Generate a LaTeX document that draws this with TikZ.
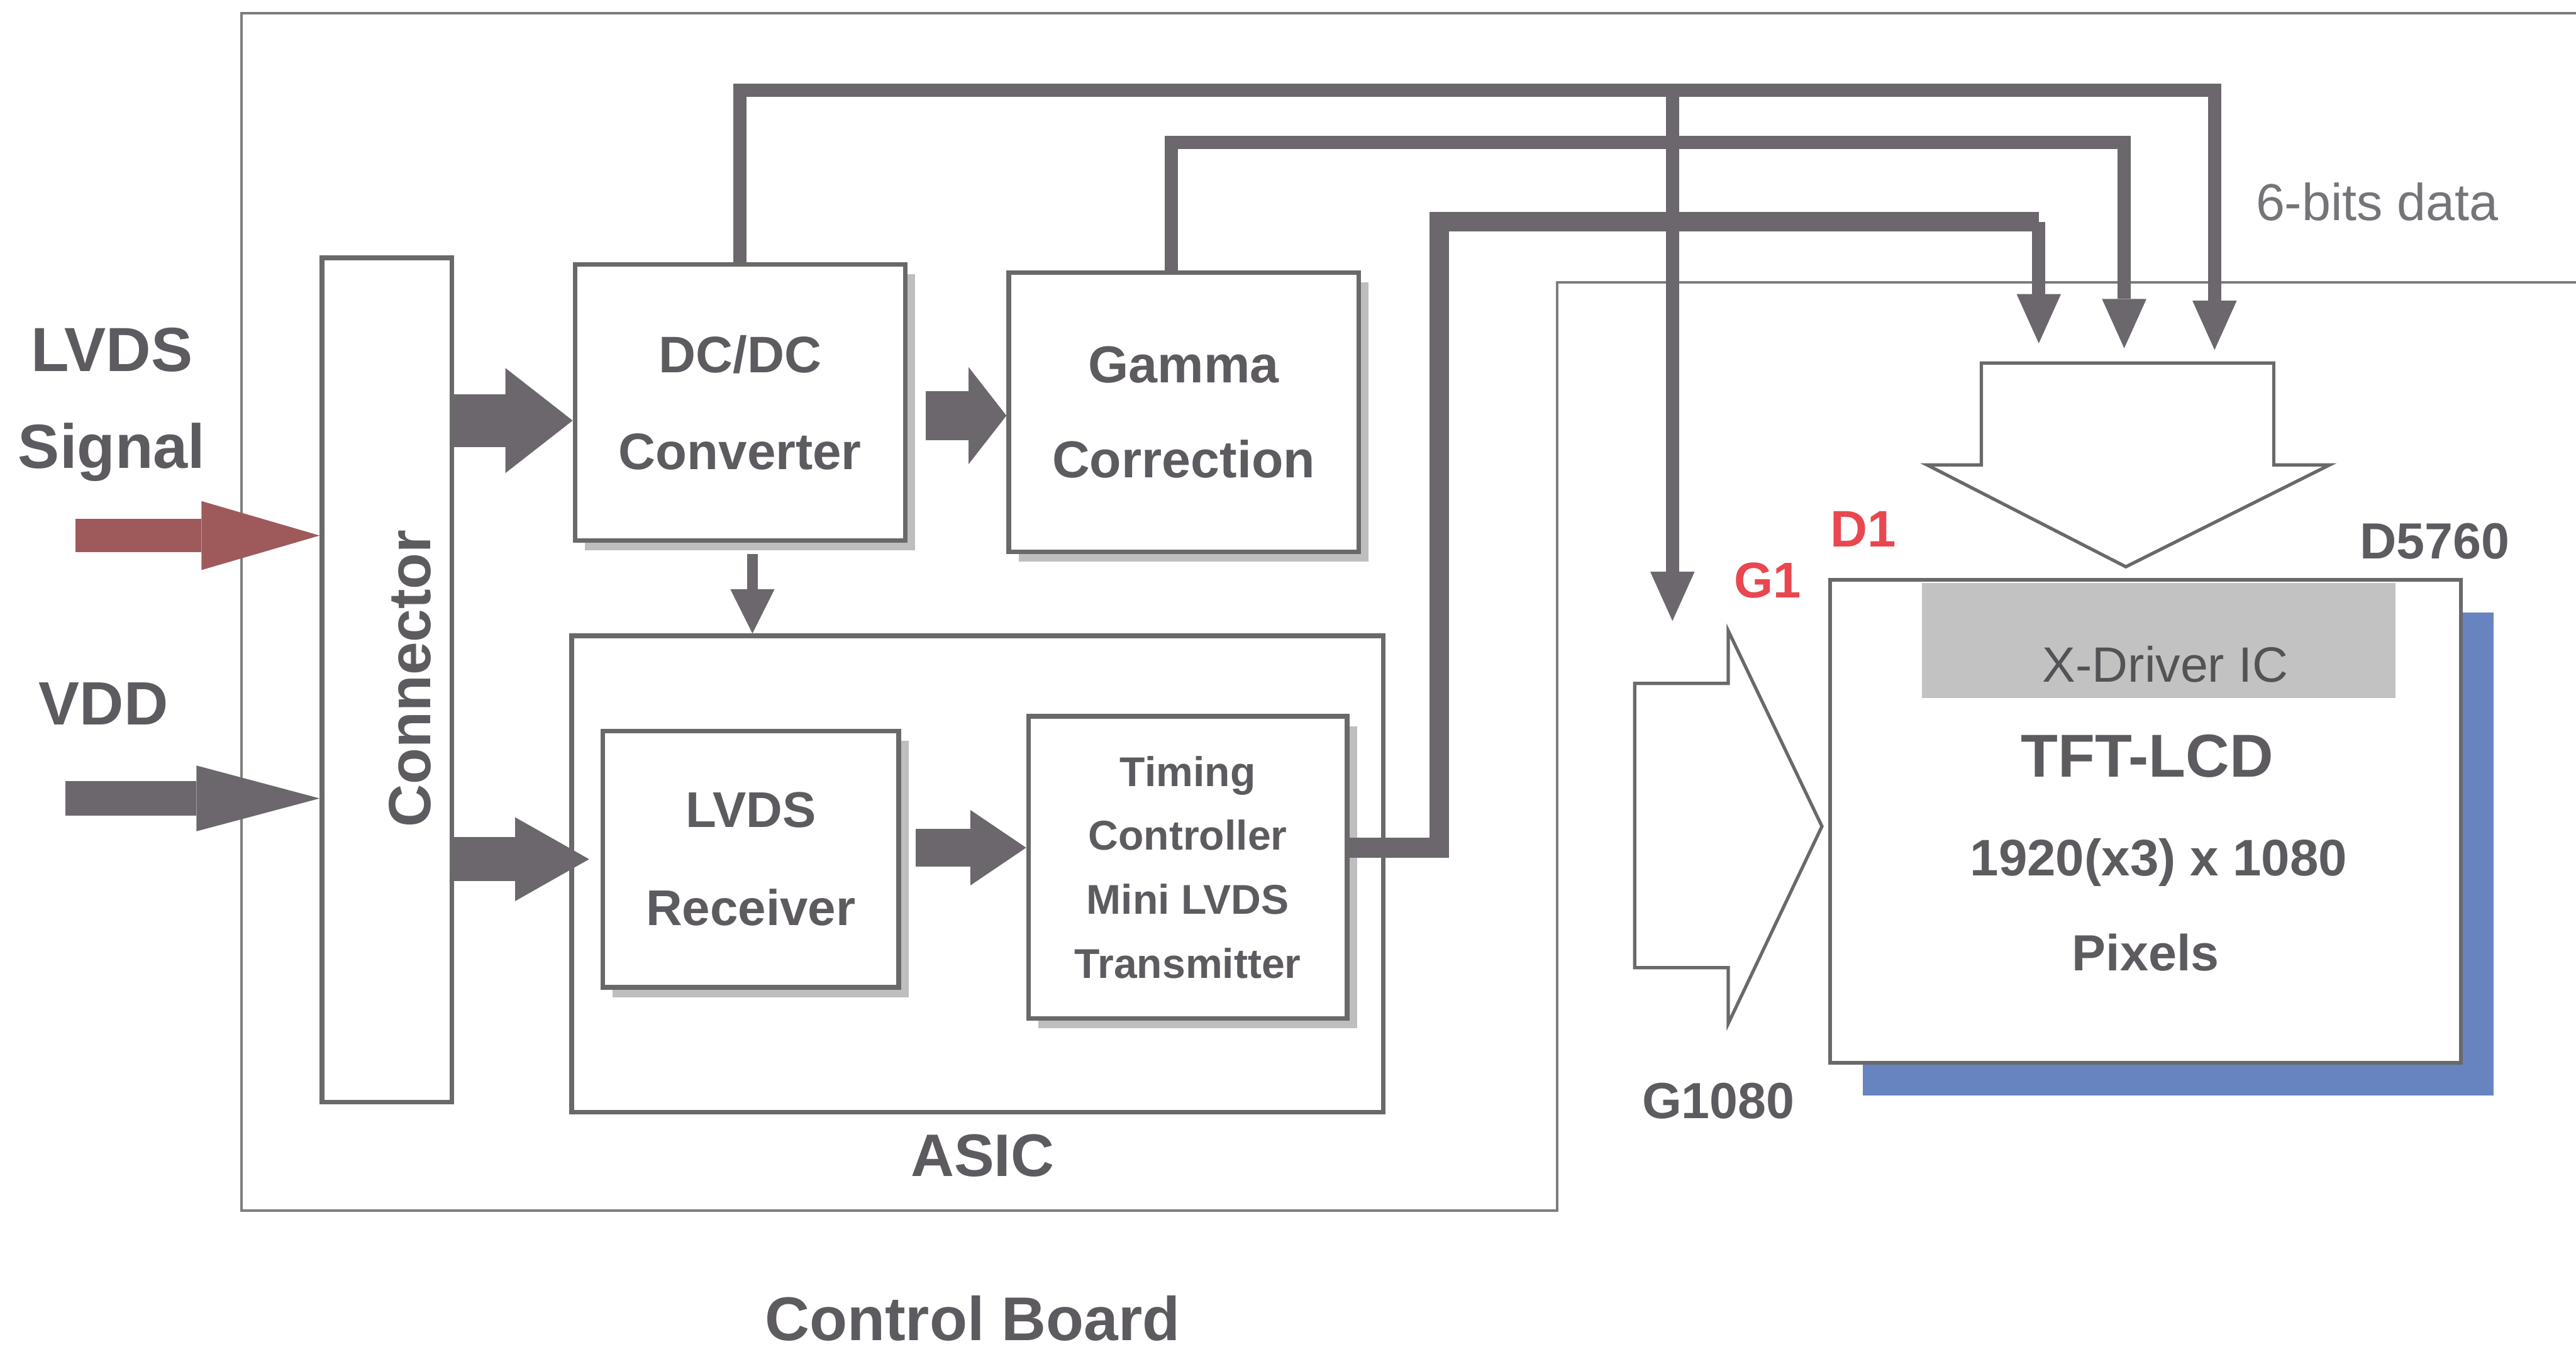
\documentclass[tikz,border=0pt]{standalone}
\usepackage{fontspec}
\setmainfont{Liberation Sans}
\usetikzlibrary{arrows.meta, shadows, positioning}

\definecolor{txtgray}{RGB}{94,91,96}
\definecolor{arrgray}{RGB}{107,103,109}
\definecolor{boxgray}{RGB}{105,105,105}
\definecolor{framegray}{RGB}{125,125,125}
\definecolor{shdgray}{RGB}{190,190,190}
\definecolor{sigred}{RGB}{158,90,90}
\definecolor{lcdblue}{RGB}{103,132,192}
\definecolor{drvgray}{RGB}{194,194,194}
\definecolor{pinred}{RGB}{233,71,79}

\tikzset{
  blk/.style={draw=boxgray, line width=0.28mm, fill=white, inner sep=0pt, text=txtgray, align=center},
  shd/.style={general shadow={fill=shdgray, shadow xshift=0.6mm, shadow yshift=-0.6mm}},
  lbl/.style={text=txtgray, inner sep=0pt, anchor=base},
  fnt/.style={font=\bfseries\fontsize{#1}{#1}\selectfont},
  fat/.style args={#1/#2/#3}{draw=arrgray, line width=#1, -{Triangle[width=#2, length=#3, line width=0pt]}},
  bus/.style={draw=arrgray, line width=0.8mm},
  bustip/.style={-{Triangle[width=2.7mm, length=3mm, line width=0pt]}},
  hollow/.style={draw=boxgray, line width=0.2mm, fill=white, line join=miter},
}

\begin{document}
\begin{tikzpicture}[x=0.1mm, y=-0.1mm]
  \useasboundingbox (0,0) rectangle (1568,827);
  \fill[white] (0,0) rectangle (1568,827);

  % control board frame and panel edge
  \draw[framegray, line width=0.15mm] (1568,8) -- (147,8) -- (147,737) -- (948,737) -- (948,172) -- (1568,172);

  % blocks on the control board
  \node[blk, minimum width=7.9mm, minimum height=51.4mm] (conn) at (235.5,414) {};
  \node[lbl, fnt=10.3, rotate=90] at (262,413) {Connector};

  \node[blk, shd, minimum width=20.1mm, minimum height=16.8mm, font=\bfseries\fontsize{8.9}{16.8}\selectfont] (dcdc) at (450.5,245) {DC/DC\\Converter};
  \node[blk, shd, minimum width=21.3mm, minimum height=17mm, font=\bfseries\fontsize{9}{16.5}\selectfont] (gamma) at (720.5,251) {Gamma\\Correction};

  \node[blk, minimum width=49.4mm, minimum height=29mm] (asic) at (595,532) {};
  \node[blk, shd, minimum width=18mm, minimum height=15.6mm, font=\bfseries\fontsize{8.7}{17}\selectfont] (rx) at (457,523) {LVDS\\Receiver};
  \node[blk, shd, minimum width=19.4mm, minimum height=18.4mm, font=\bfseries\fontsize{7.2}{11.1}\selectfont] (tcon) at (723,528) {Timing\\Controller\\Mini LVDS\\Transmitter};

  \node[lbl, fnt=10.4] (asiclbl) at (598,716) {ASIC};
  \node[lbl, fnt=10.7] (cblbl) at (592,816) {Control Board};

  % inputs
  \node[lbl, fnt=10.8] (lvdslbl) at (68,226) {LVDS};
  \node[lbl, fnt=10.8] (siglbl) at (68,285) {Signal};
  \node[lbl, fnt=10.6] (vddlbl) at (63,441) {VDD};

  \coordinate (lvdsin) at (46,326);
  \coordinate (vddin) at (40,486);
  \draw[fat=2mm/4.2mm/7.2mm, draw=sigred] (lvdsin) -- (lvdsin -| conn.west);
  \draw[fat=2.1mm/4mm/7.5mm] (vddin) -- (vddin -| conn.west);

  % fat arrows between blocks
  \coordinate (dcin) at ([yshift=-1.1mm]dcdc.west);
  \coordinate (rxin) at ([xshift=-0.7mm]rx.west);
  \coordinate (dcout) at ([xshift=1.1mm,yshift=-0.8mm]dcdc.east);
  \coordinate (rxout) at ([xshift=0.9mm,yshift=0.7mm]rx.east);
  \draw[fat=3.2mm/6.4mm/4.1mm] (conn.east |- dcin) -- (dcin);
  \draw[fat=2.7mm/5.1mm/4.5mm] (conn.east |- rxin) -- (rxin);
  \draw[fat=3mm/5.9mm/2.3mm] (dcout) -- (dcout -| gamma.west);
  \draw[fat=2.3mm/4.6mm/3.4mm] (rxout) -- (rxout -| tcon.west);

  \coordinate (dcdown) at ([xshift=0.75mm,yshift=-0.7mm]dcdc.south);
  \draw[draw=arrgray, line width=0.65mm, -{Triangle[width=2.7mm, length=2.7mm, line width=0pt]}] (dcdown) -- (dcdown |- asic.north);

  % panel
  \node[draw=boxgray, line width=0.25mm, fill=white, general shadow={fill=lcdblue, shadow xshift=2mm, shadow yshift=-2mm}, minimum width=38.4mm, minimum height=29.4mm] (tft) at (1306,500) {};
  \node[fill=drvgray, inner sep=0pt, minimum width=28.8mm, minimum height=7mm] (xdrv) at (1314,390) {};
  \node[lbl, text=txtgray!90!black, font=\fontsize{8.6}{8.6}\selectfont] at (1318,415) {X-Driver IC};
  \node[lbl, fnt=10.5] at (1307,473) {TFT-LCD};
  \node[lbl, fnt=8.9] at (1314,533) {1920(x3) x 1080};
  \node[lbl, fnt=8.8] at (1306,591) {Pixels};

  % hollow driver arrows
  \draw[hollow] (1206,221) -- (1384,221) -- (1384,283) -- (1418,283) -- (1294,345) -- (1173,283) -- (1206,283) -- cycle;
  \draw[hollow] (995,416) -- (1052,416) -- (1052,384) -- (1109,503) -- (1052,623) -- (1052,589) -- (995,589) -- cycle;

  \node[lbl, fnt=8.9, text=pinred] at (1134,333) {D1};
  \node[lbl, fnt=8.7, text=pinred] at (1076,364) {G1};
  \node[lbl, fnt=8.8] at (1482,340) {D5760};
  \node[lbl, fnt=8.8] at (1046,681) {G1080};
  \node[lbl, text=txtgray!85!white, font=\fontsize{9}{9}\selectfont] at (1447,134) {6-bits data};

  % data and gate buses
  \coordinate (dtip1) at (1241,209);
  \coordinate (dtip2) at (1293,212);
  \coordinate (dtip3) at (1348,213);
  \coordinate (dbend) at (1241,135);
  \coordinate (gtap) at (1018,55);
  \coordinate (g1tip) at (1018,378);

  \draw[bus, line width=1.2mm] ([yshift=1.2mm]tcon.east) -| (876,135) -- (dbend);
  \draw[bus, bustip] (dbend) -- (dtip1);
  \draw[bus, bustip] ([xshift=-0.75mm]gamma.north) -- ++(0,7.8mm) -| (dtip2);
  \draw[bus, bustip] (dcdc.north) |- (gtap) -| (dtip3);
  \draw[bus, bustip] (gtap) -- (g1tip);
\end{tikzpicture}
\end{document}
